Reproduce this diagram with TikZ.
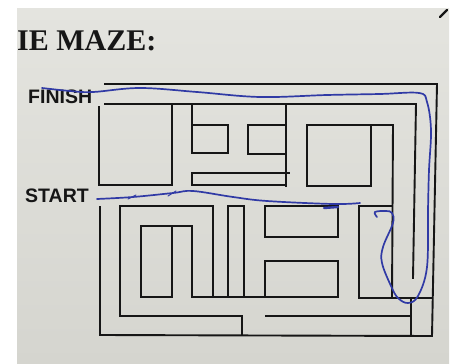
\documentclass[tikz,border=0pt]{standalone}
\usepackage{fontspec}
\setmainfont{Liberation Serif}
\newfontfamily\labelfont{Liberation Sans}
\usepackage{tikz}
\usetikzlibrary{positioning}
\definecolor{paper}{RGB}{228,228,223}
\definecolor{paperlow}{RGB}{213,213,207}
\definecolor{ink}{RGB}{22,22,22}
\definecolor{pen}{RGB}{48,58,165}

\begin{document}
\begin{tikzpicture}[x=1pt, y=-1pt,
    wall/.style={draw=ink, line width=1.9pt, line cap=rect},
    trail/.style={draw=pen, line width=1.7pt, line cap=round, line join=round},
    mazelabel/.style={font=\labelfont\bfseries\fontsize{19.5}{20}\selectfont,
                      inner sep=0pt, anchor=base west, text=ink}]
  \useasboundingbox (0,0) rectangle (458,364);
  % the photographed sheet
  \shade[top color=paper, bottom color=paperlow] (17,8) rectangle (449,364);
  \draw[ink, line width=2.2pt, line cap=round] (440,17) -- (447,10);

  % titles
  \node[inner sep=0pt, anchor=base west, text=ink,
        font=\bfseries\fontsize{30}{30}\selectfont]
        (title) at (17,50) {IE MAZE:};
  \node[mazelabel] (finish) at (28,103) {FINISH};
  \node[mazelabel] (start) at (25,202) {START};

  % outer walls
  \draw[wall] (105,84) -- (437,84) -- (432,336) -- (100,335) -- (100,207);
  \draw[wall] (105,104) -- (416,104) -- (413,278);
  \draw[wall] (99,107) -- (99,185) -- (172,185) -- (172,104);

  % upper half
  \draw[wall] (192,104) -- (192,153) -- (228,153) -- (228,125) -- (192,125);
  \draw[wall] (286,104) -- (286,186);
  \draw[wall] (286,125) -- (248,125) -- (248,154) -- (286,154);
  \draw[wall] (289,173) -- (192,173) -- (192,185) -- (286,185);
  \draw[wall] (392,298) -- (393,125) -- (307,125) -- (307,186) -- (371,186) -- (371,125);

  % lower half
  \draw[wall] (213,297) -- (213,206) -- (120,206) -- (120,316) -- (242,316) -- (242,335);
  \draw[wall] (172,297) -- (141,297) -- (141,226) -- (192,226) -- (192,297) -- (338,297);
  \draw[wall] (172,226) -- (172,297);
  \draw[wall] (228,297) -- (228,206) -- (244,206) -- (244,297);
  \draw[wall] (265,206) rectangle (338,237);
  \draw[wall] (265,297) -- (265,261) -- (338,261) -- (338,297);
  \draw[wall] (359,298) -- (359,206) -- (392,206);
  \draw[wall] (359,298) -- (432,298);
  \draw[wall] (411,298) -- (411,336);
  \draw[wall] (266,316) -- (411,316);

  % pen trail
  \draw[trail] plot[smooth, tension=0.6] coordinates {
      (42,88) (70,91) (93,92) (140,88) (197,92) (260,97) (327,95) (380,94)
      (419,93) (427,102) (431,130) (429,170) (428,210) (427,267) (418,296)
      (408,303) (398,298) (391,286) (382,263) (383,247) (393,223) (392,213)
      (386,211) (375,212) (377,217)};
  \draw[trail] plot[smooth, tension=0.6] coordinates {
      (97,199) (133,197) (173,193) (193,191) (233,197) (267,201) (333,204) (360,203)};
  \draw[trail, line width=2.4pt] (324,208) -- (338,207);
  \draw[trail, line width=1pt] (128,199) -- (136,195);
  \draw[trail, line width=1pt] (168,196) -- (176,191);
\end{tikzpicture}
\end{document}
